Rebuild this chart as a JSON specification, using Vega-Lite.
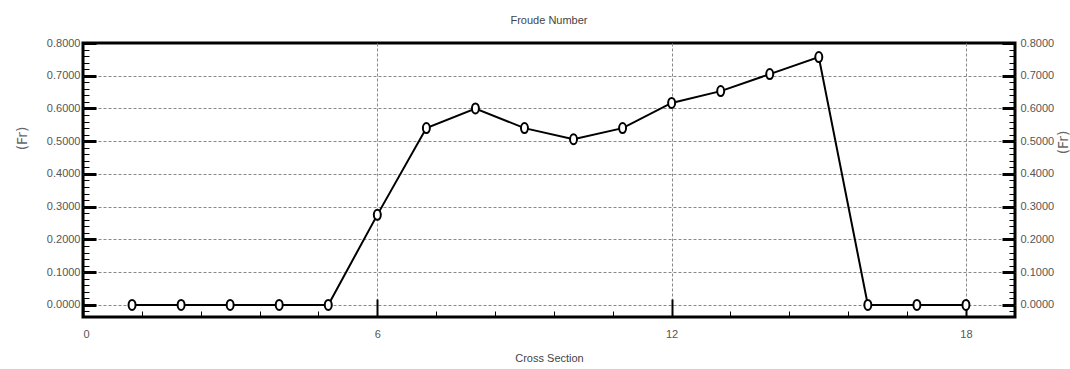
{
  "$schema": "https://vega.github.io/schema/vega-lite/v6.json",
  "width": 932,
  "height": 274,
  "autosize": "none",
  "padding": {"left": 83, "top": 43, "right": 55, "bottom": 52},
  "background": "white",
  "title": {"text": "Froude Number", "fontSize": 11, "font": "Liberation Sans, sans-serif", "fontWeight": "normal", "color": "#444", "offset": 11},
  "config": {
    "view": {"stroke": "black", "strokeWidth": 3},
    "axis": {
      "labelFont": "Liberation Sans, sans-serif",
      "labelFontSize": 11,
      "labelColor": "#555",
      "titleFont": "DejaVu Sans, sans-serif",
      "titleFontWeight": "normal",
      "titleColor": "#666",
      "titleFontSize": 14,
      "domain": false,
      "tickColor": "black",
      "gridColor": "#888",
      "gridDash": [3, 2],
      "gridWidth": 1
    }
  },
  "data": {
    "values": [
      {"section": 1, "fr": 0},
      {"section": 2, "fr": 0},
      {"section": 3, "fr": 0},
      {"section": 4, "fr": 0},
      {"section": 5, "fr": 0},
      {"section": 6, "fr": 0.275},
      {"section": 7, "fr": 0.54},
      {"section": 8, "fr": 0.6},
      {"section": 9, "fr": 0.54},
      {"section": 10, "fr": 0.506},
      {"section": 11, "fr": 0.54},
      {"section": 12, "fr": 0.617},
      {"section": 13, "fr": 0.653},
      {"section": 14, "fr": 0.705},
      {"section": 15, "fr": 0.757},
      {"section": 16, "fr": 0},
      {"section": 17, "fr": 0},
      {"section": 18, "fr": 0}
    ]
  },
  "layer": [
    {
      "mark": {"type": "line", "color": "black", "strokeWidth": 2},
      "encoding": {
        "x": {
          "field": "section", "type": "quantitative",
          "scale": {"domain": [0, 19], "nice": false, "zero": false},
          "axis": {
            "title": "Cross Section",
            "titleFont": "Liberation Sans, sans-serif",
            "titleFontSize": 11,
            "titleColor": "#444",
            "titlePadding": 13,
            "values": [0, 1.2, 2.4, 3.6, 4.8, 6, 7.2, 8.4, 9.6, 10.8, 12, 13.2, 14.4, 15.6, 16.8, 18],
            "labelExpr": "datum.value % 6 == 0 ? datum.label : ''",
            "labelPadding": 29,
            "tickSize": {"condition": {"test": "datum.value % 6 == 0", "value": -18}, "value": -6},
            "tickWidth": {"condition": {"test": "datum.value % 6 == 0", "value": 2}, "value": 1},
            "gridOpacity": {"condition": {"test": "datum.value % 6 == 0 && datum.value > 0", "value": 1}, "value": 0}
          }
        },
        "y": {
          "field": "fr", "type": "quantitative",
          "scale": {"domain": [-0.037, 0.8], "nice": false, "zero": false},
          "axis": {
            "title": "(Fr)",
            "titleBaseline": "middle",
            "titleX": -61,
            "titleY": 95,
            "values": [-0.02,0,0.02,0.04,0.06,0.08,0.1,0.12,0.14,0.16,0.18,0.2,0.22,0.24,0.26,0.28,0.3,0.32,0.34,0.36,0.38,0.4,0.42,0.44,0.46,0.48,0.5,0.52,0.54,0.56,0.58,0.6,0.62,0.64,0.66,0.68,0.7,0.72,0.74,0.76,0.78,0.8],
            "labelExpr": "abs(datum.value*10 - round(datum.value*10)) < 0.001 && datum.value >= 0 ? format(datum.value, '.4f') : ''",
            "labelPadding": 16,
            "tickSize": {"condition": {"test": "abs(datum.value*10 - round(datum.value*10)) < 0.001", "value": -13}, "value": -6},
            "tickWidth": {"condition": {"test": "abs(datum.value*10 - round(datum.value*10)) < 0.001", "value": 3}, "value": 1},
            "gridOpacity": {"condition": {"test": "abs(datum.value*10 - round(datum.value*10)) < 0.001 && datum.value < 0.75", "value": 1}, "value": 0}
          }
        }
      }
    },
    {
      "mark": {"type": "point", "shape": "M0,-1 A0.7,1 0 1,1 0,1 A0.7,1 0 1,1 0,-1 Z", "size": 100, "filled": false, "fill": "white", "fillOpacity": 1, "stroke": "black", "strokeWidth": 2, "opacity": 1},
      "encoding": {
        "x": {"field": "section", "type": "quantitative", "scale": {"domain": [0, 19], "nice": false, "zero": false}},
        "y": {
          "field": "fr", "type": "quantitative",
          "scale": {"domain": [-0.037, 0.8], "nice": false, "zero": false},
          "axis": {
            "orient": "right",
            "title": "(Fr)",
            "titleAngle": -90,
            "titleBaseline": "middle",
            "titleX": 48,
            "titleY": 99,
            "grid": false,
            "values": [-0.02,0,0.02,0.04,0.06,0.08,0.1,0.12,0.14,0.16,0.18,0.2,0.22,0.24,0.26,0.28,0.3,0.32,0.34,0.36,0.38,0.4,0.42,0.44,0.46,0.48,0.5,0.52,0.54,0.56,0.58,0.6,0.62,0.64,0.66,0.68,0.7,0.72,0.74,0.76,0.78,0.8],
            "labelExpr": "abs(datum.value*10 - round(datum.value*10)) < 0.001 && datum.value >= 0 ? format(datum.value, '.4f') : ''",
            "labelPadding": 18,
            "tickSize": {"condition": {"test": "abs(datum.value*10 - round(datum.value*10)) < 0.001", "value": -13}, "value": -6},
            "tickWidth": {"condition": {"test": "abs(datum.value*10 - round(datum.value*10)) < 0.001", "value": 3}, "value": 1}
          }
        }
      }
    }
  ],
  "resolve": {"scale": {"y": "independent"}, "axis": {"y": "independent"}}
}
